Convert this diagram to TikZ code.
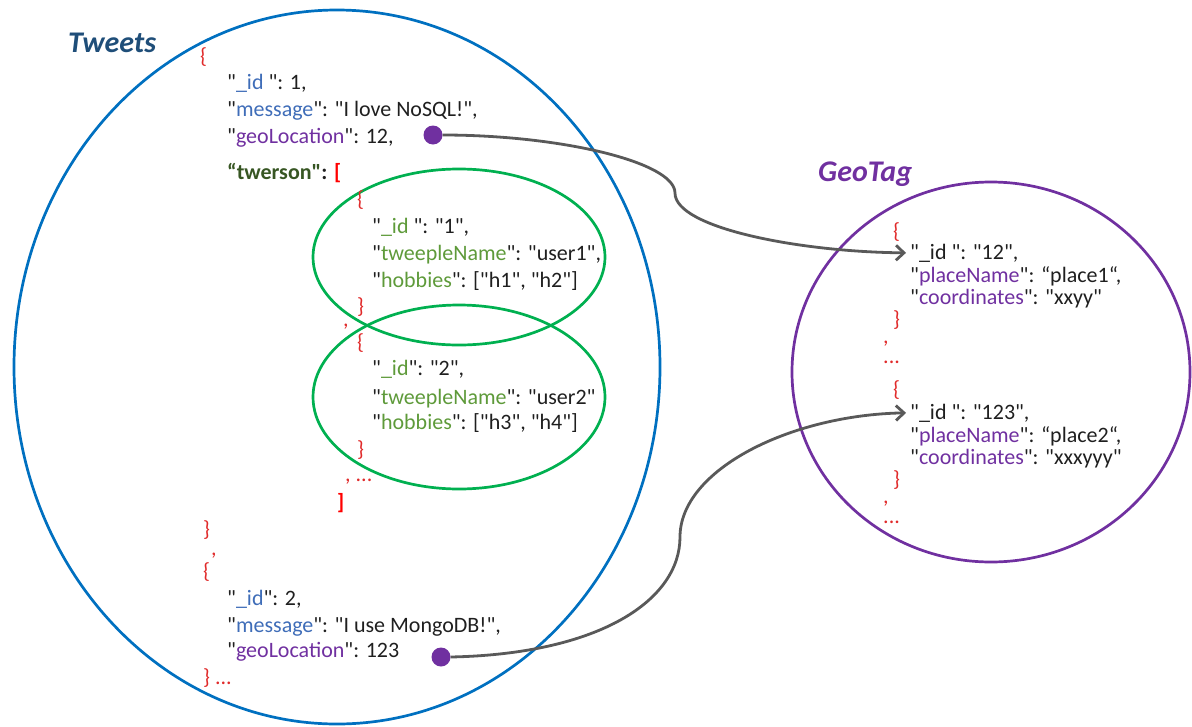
\documentclass[tikz,border=0pt]{standalone}
\usepackage{fontspec}
\setmainfont{Carlito}[Ligatures=TeXOff]
\usepackage{xcolor}
\usetikzlibrary{arrows.meta, positioning}

\definecolor{tweetblue}{HTML}{0070C0}
\definecolor{titleblue}{HTML}{1F4E79}
\definecolor{geopurple}{HTML}{7030A0}
\definecolor{ringgreen}{HTML}{00B050}
\definecolor{keyblue}{HTML}{3F6DB8}
\definecolor{keygreen}{HTML}{5E9A3A}
\definecolor{darkgreen}{HTML}{375623}
\definecolor{bracered}{HTML}{E02A2A}
\definecolor{linkgray}{HTML}{595959}

\newcommand\Q{"}
\newcommand\kb[1]{\Q\textcolor{keyblue}{#1}\Q}
\newcommand\kp[1]{\Q\textcolor{geopurple}{#1}\Q}
\newcommand\kg[1]{\Q\textcolor{keygreen}{#1}\Q}

\begin{document}
\begin{tikzpicture}[x=1pt, y=-1pt,
  jsonline/.style={anchor=base west, inner sep=0pt,
                   font=\fontsize{22}{26}\selectfont, text=black!88},
  bracetext/.style={jsonline, text=bracered},
  collring/.style={line width=2.7pt},
  titletext/.style={anchor=base west, inner sep=0pt,
                    font=\fontsize{30}{34}\selectfont\bfseries\itshape},
  refdot/.style={circle, fill=geopurple, inner sep=0pt, minimum size=19pt},
  link/.style={line width=2.8pt, draw=linkgray,
               -{Straight Barb[length=8pt, width=15pt]}}
]
\useasboundingbox (0,0) rectangle (1192,726);

% collections
\draw[collring, tweetblue] (337,367) ellipse [x radius=323, y radius=357];
\draw[collring, geopurple] (991,372) ellipse [x radius=199, y radius=190];
\draw[collring, ringgreen] (459,257) ellipse [x radius=146, y radius=88];
\draw[collring, ringgreen] (459,397) ellipse [x radius=146, y radius=92];

\node[titletext, text=titleblue] (tweetstitle) at (68,52) {Tweets};
\node[titletext, text=geopurple] (geotitle) at (818,181) {GeoTag};

% first tweet
\node[bracetext] (t1open) at (200,63) {\{};
\node[jsonline] (t1id)  at (227,89)  {\kb{\_id }: 1,};
\node[jsonline] (t1msg) at (227,116) {\kb{message}: "I love NoSQL!",};
\node[jsonline] (t1geo) at (227,143) {\kp{geoLocation}: 12,};
\node[refdot] (dot1) at (433,135) {};
\node[jsonline, font=\fontsize{22}{26}\selectfont\bfseries, text=darkgreen] (t1tw) at (227,179)
  {“twerson"\textcolor{black!88}{:} \textcolor{red}{[}};

% twerson entries
\node[bracetext] (p1open)  at (357,206) {\{};
\node[jsonline] (p1id)   at (372,233) {\kg{\_id }: "1",};
\node[jsonline] (p1name) at (372,260) {\kg{tweepleName}: "user1",};
\node[jsonline] (p1hob)  at (372,287) {\kg{hobbies}: ["h1", "h2"]};
\node[bracetext] (p1close) at (357,313) {\}};
\node[bracetext] (p1comma) at (343,326) {,};
\node[bracetext] (p2open)  at (357,349) {\{};
\node[jsonline] (p2id)   at (372,375) {\kg{\_id}: "2",};
\node[jsonline] (p2name) at (372,404) {\kg{tweepleName}: "user2"};
\node[jsonline] (p2hob)  at (372,429) {\kg{hobbies}: ["h3", "h4"]};
\node[bracetext] (p2close) at (357,456) {\}};
\node[bracetext] (p2more)  at (345,481) {, ...};
\node[jsonline, font=\fontsize{22}{26}\selectfont\bfseries, text=red] (twclose) at (337,509) {]};

% second tweet
\node[bracetext] (t1close) at (203,536) {\}};
\node[bracetext] (t1comma) at (211,555) {,};
\node[bracetext] (t2open)  at (203,578) {\{};
\node[jsonline] (t2id)  at (227,605) {\kb{\_id}: 2,};
\node[jsonline] (t2msg) at (227,632) {\kb{message}: "I use MongoDB!",};
\node[jsonline] (t2geo) at (227,657) {\kp{geoLocation}: 123};
\node[refdot] (dot2) at (441,657) {};
\node[bracetext] (t2close) at (203,684) {\} ...};

% geotags
\node[bracetext] (g1open)  at (893,238) {\{};
\node[jsonline] (g1id)    at (910,259) {"\_id ": "12",};
\node[jsonline] (g1place) at (910,282) {\kp{placeName}: “place1“,};
\node[jsonline] (g1coord) at (910,304) {\kp{coordinates}: "xxyy"};
\node[bracetext] (g1close) at (893,326) {\}};
\node[bracetext] (g1comma) at (883,343) {,};
\node[bracetext] (g1more)  at (883,363) {...};
\node[bracetext] (g2open)  at (893,396) {\{};
\node[jsonline] (g2id)    at (910,419) {"\_id ": "123",};
\node[jsonline] (g2place) at (910,442) {\kp{placeName}: “place2“,};
\node[jsonline] (g2coord) at (910,464) {\kp{coordinates}: "xxxyyy"};
\node[bracetext] (g2close) at (893,486) {\}};
\node[bracetext] (g2comma) at (883,503) {,};
\node[bracetext] (g2more)  at (883,523) {...};

% references
\draw[link] (dot1.east) .. controls (560,135) and (675,162) .. (675,193)
  .. controls (675,228) and (800,252) .. ([xshift=-4pt]g1id.west);
\draw[link] (dot2.east) .. controls (600,654) and (680,600) .. (680,537)
  .. controls (680,470) and (790,415) .. ([xshift=-4pt]g2id.west);

\end{tikzpicture}
\end{document}
